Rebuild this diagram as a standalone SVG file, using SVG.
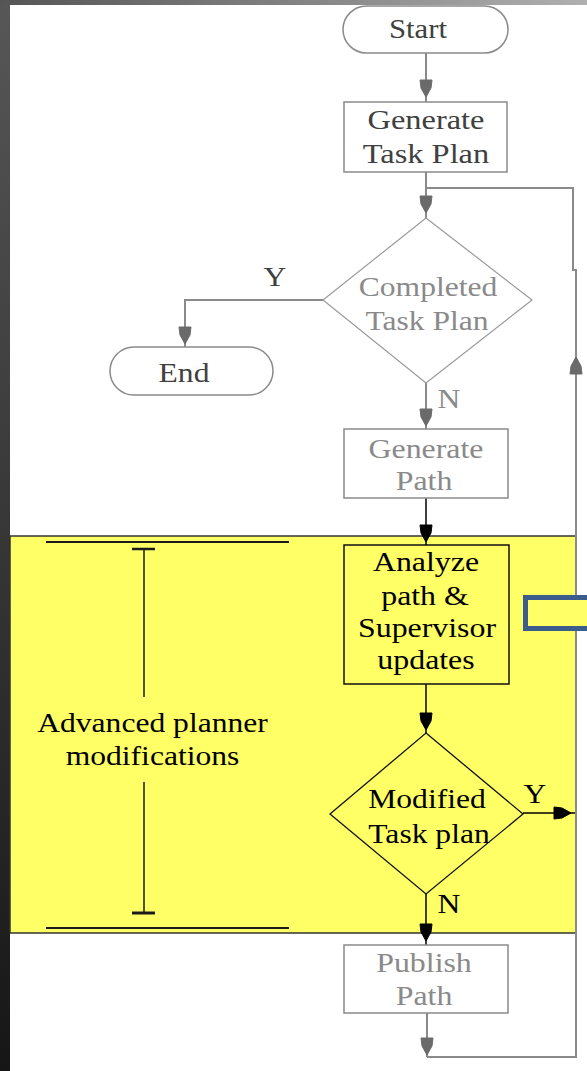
<svg xmlns="http://www.w3.org/2000/svg" width="587" height="1071" viewBox="0 0 587 1071">
  <defs>
    <linearGradient id="gLeft" x1="0" y1="0" x2="0" y2="1">
      <stop offset="0" stop-color="#575757"/>
      <stop offset="1" stop-color="#161616"/>
    </linearGradient>
    <linearGradient id="gTop" x1="0" y1="0" x2="1" y2="0">
      <stop offset="0" stop-color="#555555"/>
      <stop offset="1" stop-color="#b0b0b0"/>
    </linearGradient>
    <style>
      .t { font-family: "Liberation Serif", "Times New Roman", serif; font-size: 27px; text-anchor: middle; }
      .dk { fill: #404040; }
      .lt { fill: #8a8a8a; }
      .bk { fill: #000000; }
      .gshape { fill: #ffffff; stroke: #8a8a8a; stroke-width: 1.5; }
      .bshape { fill: #ffff66; stroke: #111111; stroke-width: 1.5; }
      .gline { fill: none; stroke: #8a8a8a; stroke-width: 2; }
      .bline { fill: none; stroke: #000000; stroke-width: 1.5; }
      .mark { fill: none; stroke: #1a1a1a; }
    </style>
  </defs>

  <!-- page background and frame -->
  <rect x="0" y="0" width="587" height="1071" fill="#ffffff"/>
  <rect x="0" y="0" width="10" height="1071" fill="url(#gLeft)"/>
  <rect x="0" y="0" width="587" height="5" fill="url(#gTop)"/>

  <!-- highlighted region -->
  <g id="region">
    <rect x="10" y="536" width="566" height="397" fill="#ffff66" stroke="#333333" stroke-width="1.5"/>
    <line class="mark" x1="46" y1="542" x2="289" y2="542" stroke-width="2"/>
    <line class="mark" x1="132" y1="549" x2="155" y2="549" stroke-width="2.5"/>
    <line class="mark" x1="144" y1="549" x2="144" y2="697" stroke-width="1.5"/>
    <line class="mark" x1="144" y1="782" x2="144" y2="913" stroke-width="1.5"/>
    <line class="mark" x1="132" y1="913" x2="155" y2="913" stroke-width="3"/>
    <line class="mark" x1="46" y1="928" x2="289" y2="928" stroke-width="2"/>
    <text class="t bk" transform="translate(152.5 732) scale(1.17 1)">Advanced planner</text>
    <text class="t bk" transform="translate(152.5 765) scale(1.17 1)">modifications</text>
  </g>

  <!-- connectors -->
  <g id="connectors">
    <line class="gline" x1="426" y1="53" x2="426" y2="102"/>
    <line class="gline" x1="426" y1="172" x2="426" y2="218"/>
    <polyline class="gline" points="323,300 185,300 185,347"/>
    <line class="gline" x1="426" y1="383" x2="426" y2="429"/>
    <line class="bline" x1="426" y1="498" x2="426" y2="545"/>
    <line class="bline" x1="426" y1="684" x2="426" y2="733"/>
    <line class="bline" x1="523" y1="813" x2="576" y2="813"/>
    <line class="bline" x1="426" y1="894" x2="426" y2="945"/>
    <line class="gline" x1="427" y1="1013" x2="427" y2="1057"/>
    <!-- return loop up the right side -->
    <path class="gline" d="M427,1057 H576 V270 H573 V188 H426"/>

    <!-- arrowheads: shield shape, wide base then tapering to the tip -->
    <g fill="#6a6a6a" stroke="#6a6a6a" stroke-width="1">
      <path d="M420,80 L432,80 L431,88 L426,97 L421,88 Z"/>
      <path d="M420,196 L432,196 L431,204 L426,213 L421,204 Z"/>
      <path d="M179,327 L191,327 L190,335 L185,344 L180,335 Z"/>
      <path d="M420,409 L432,409 L431,417 L426,426 L421,417 Z"/>
      <path d="M421,1038 L433,1038 L432,1046 L427,1055 L422,1046 Z"/>
      <path d="M570,374 L582,374 L581,366 L576,357 L571,366 Z"/>
    </g>
    <g fill="#000000" stroke="#000000" stroke-width="1">
      <path d="M420,525 L432,525 L431,533 L426,542 L421,533 Z"/>
      <path d="M420,713 L432,713 L431,721 L426,730 L421,721 Z"/>
      <path d="M554,807 L554,819 L562,818 L571,813 L562,808 Z"/>
      <path d="M420,924 L432,924 L431,932 L426,941 L421,932 Z"/>
    </g>

    <text class="t dk" transform="translate(275 286) scale(1.17 1)">Y</text>
    <text class="t lt" transform="translate(449 408) scale(1.17 1)">N</text>
    <text class="t bk" transform="translate(535 803) scale(1.17 1)">Y</text>
    <text class="t bk" transform="translate(449 913) scale(1.17 1)">N</text>
  </g>

  <!-- callout outline at the right edge -->
  <rect x="525.5" y="597.5" width="80" height="31" fill="#ffff66" stroke="#3c5d8c" stroke-width="5"/>

  <g id="start">
    <rect class="gshape" x="343" y="6" width="165" height="47" rx="23.5"/>
    <text class="t dk" transform="translate(418 38) scale(1.14 1)">Start</text>
  </g>

  <g id="generate-task-plan">
    <rect class="gshape" x="344" y="102" width="163" height="70"/>
    <text class="t dk" transform="translate(426 129) scale(1.2 1)">Generate</text>
    <text class="t dk" transform="translate(426 163) scale(1.2 1)">Task Plan</text>
  </g>

  <g id="completed-task-plan">
    <polygon points="426,218 532,300 426,383 323,300" fill="#ffffff" stroke="#9a9a9a" stroke-width="1.2"/>
    <text class="t lt" transform="translate(428 296) scale(1.17 1)">Completed</text>
    <text class="t lt" transform="translate(427 330) scale(1.17 1)">Task Plan</text>
  </g>

  <g id="end">
    <rect class="gshape" x="110" y="347" width="163" height="48" rx="24"/>
    <text class="t dk" transform="translate(184 382) scale(1.17 1)">End</text>
  </g>

  <g id="generate-path">
    <rect class="gshape" x="344" y="429" width="164" height="69"/>
    <text class="t lt" transform="translate(426 458) scale(1.18 1)">Generate</text>
    <text class="t lt" transform="translate(424 490) scale(1.18 1)">Path</text>
  </g>

  <g id="analyze">
    <rect class="bshape" x="344" y="545" width="165" height="139"/>
    <text class="t bk" transform="translate(426 571) scale(1.18 1)">Analyze</text>
    <text class="t bk" transform="translate(425 605) scale(1.18 1)">path &amp;</text>
    <text class="t bk" transform="translate(427 637) scale(1.18 1)">Supervisor</text>
    <text class="t bk" transform="translate(426 669) scale(1.18 1)">updates</text>
  </g>

  <g id="modified-task-plan">
    <polygon points="426,733 523,814 426,894 330,814" fill="#ffff66" stroke="#111111" stroke-width="1.3"/>
    <text class="t bk" transform="translate(427 808) scale(1.17 1)">Modified</text>
    <text class="t bk" transform="translate(429 843) scale(1.17 1)">Task plan</text>
  </g>

  <g id="publish-path">
    <rect class="gshape" x="344" y="945" width="164" height="68"/>
    <text class="t lt" transform="translate(424 972) scale(1.18 1)">Publish</text>
    <text class="t lt" transform="translate(424 1005) scale(1.18 1)">Path</text>
  </g>
</svg>
